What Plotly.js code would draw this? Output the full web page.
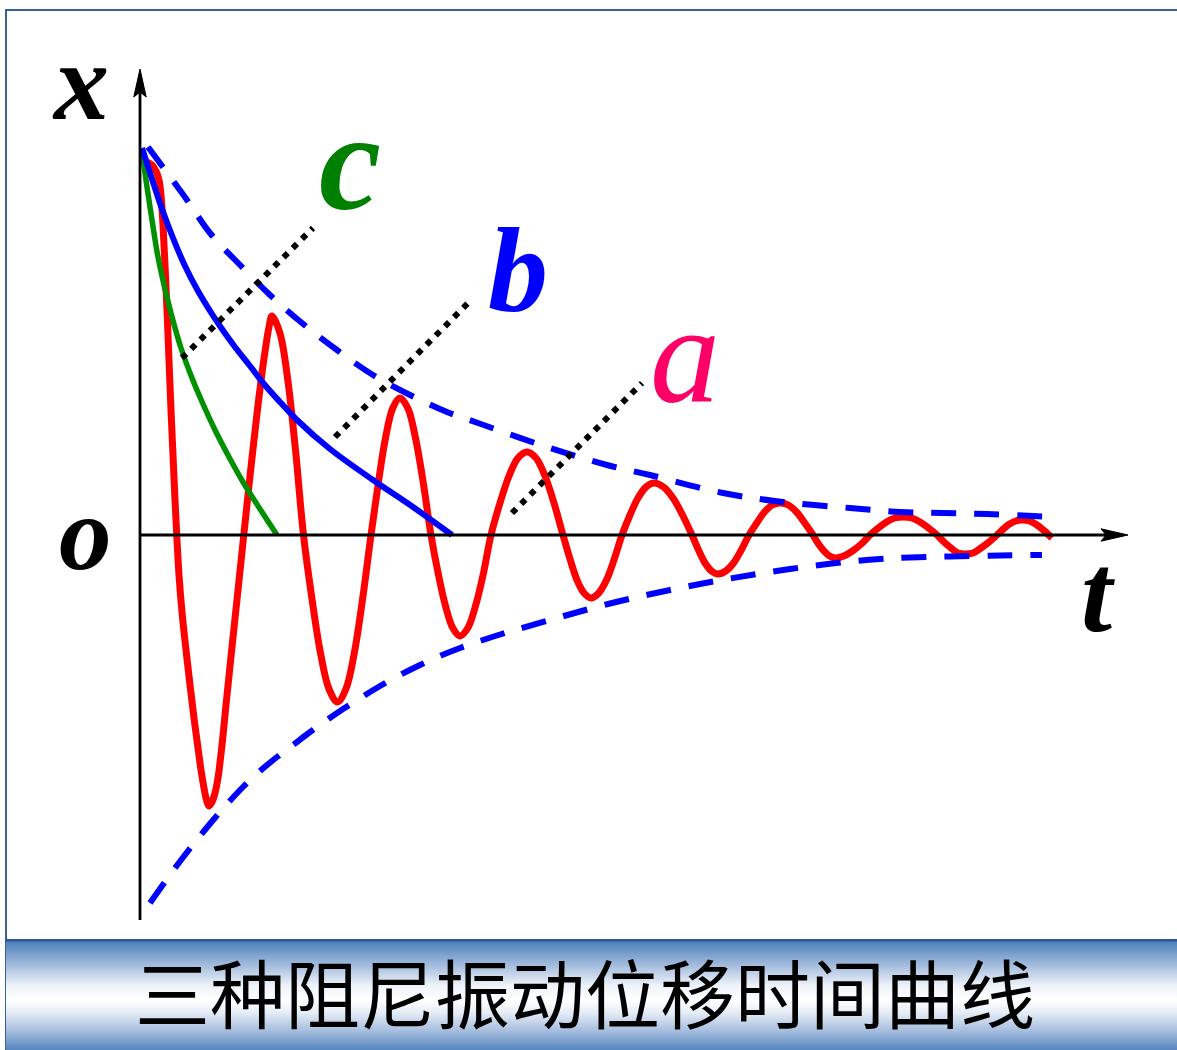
<!DOCTYPE html>
<html>
<head>
<meta charset="utf-8">
<script src="https://cdn.plot.ly/plotly-3.0.1.min.js"></script>
<style>
  html, body { margin: 0; padding: 0; background: #ffffff; }
  #wrap { position: relative; width: 1177px; height: 1050px; overflow: hidden; background: #ffffff; }
  #frame { position: absolute; left: 5px; top: 9px; width: 1200px; height: 1100px;
           border-left: 2px solid #3a5f96; border-top: 2px solid #3a5f96; box-sizing: border-box; }
  #bar { position: absolute; left: 6px; right: 0; top: 939px; height: 111px;
         background: linear-gradient(to bottom, #2f5597 0px, #2f5597 2px, #4f81bd 3px, #a9c0df 25%, #eef3f9 42%, #ffffff 55%, #e6edf6 66%, #a9c0df 82%, #5685c0 100%); }
  #chart { position: absolute; left: 0; top: 0; width: 1177px; height: 1050px; }
</style>
</head>
<body>
<div id="wrap">
  <div id="frame"></div>
  <div id="bar"></div>
  <div id="chart"></div>
</div>
<script>
// ---- data (t in time units, x in displacement units) ----
// curve a : under-damped oscillation
const redT = [0.2, 0.7, 1.2, 1.6, 1.9, 2.1, 2.3, 2.5, 2.7, 2.9, 3.1, 3.3, 3.5, 3.7, 3.9, 4.2, 4.6, 5.0, 5.4, 5.8,
              6.1, 6.4, 6.6, 6.9, 7.2, 7.5, 7.8, 8.2, 8.6, 9.0, 9.4, 9.8, 10.2, 10.6, 11.0, 11.4, 11.8, 12.2, 12.6, 12.9, 13.2,
              13.99, 14.78, 15.56, 16.35,
              17.2, 18.05, 18.9, 19.75, 20.59, 21.43, 22.26, 23.1,
              23.83, 24.55, 25.28, 26.0, 26.78, 27.55, 28.33, 29.1,
              29.83, 30.55, 31.28, 32.0, 32.78, 33.55, 34.33, 35.1,
              36.0, 36.9, 37.8, 38.7, 39.6, 40.5, 41.4, 42.3,
              43.0, 43.7, 44.4, 45.1, 45.88, 46.65, 47.43, 48.2,
              49.0, 49.8, 50.6, 51.4, 52.35, 53.3, 54.25, 55.2,
              55.85, 56.5, 57.15, 57.8, 58.58, 59.35, 60.13, 60.9,
              61.68, 62.45, 63.23, 64.0, 64.83, 65.65, 66.48, 67.3,
              67.85, 68.4, 68.95, 69.5, 70.38, 71.25, 72.13, 73.0,
              73.83, 74.65, 75.48, 76.3, 77.15, 78.0, 78.85, 79.7,
              80.4, 81.1, 81.8, 82.5, 83.3, 84.1, 84.9, 85.7,
              86.33, 86.95, 87.58, 88.2, 88.95, 89.7, 90.45, 91.2];
const redX = [37.3, 37.3, 37.0, 36.4, 35.5, 34.0, 31.0, 27.0, 22.5, 17.5, 12.5, 8.0, 3.5, -0.5, -4.0, -7.7, -11.5, -15.0, -18.3, -21.3,
              -23.5, -25.3, -26.3, -27.1, -26.7, -25.8, -24.3, -21.0, -17.0, -13.1, -9.3, -5.5, -1.7, 2.1, 5.9, 9.5, 13.0, 16.2, 19.0, 20.8, 21.9,
              20.2, 15.5, 8.4, 0.0,
              -6.4, -11.8, -15.4, -16.7, -15.4, -11.8, -6.4, 0.0,
              5.2, 9.7, 12.7, 13.7, 12.7, 9.7, 5.2, 0.0,
              -3.9, -7.1, -9.3, -10.1, -9.3, -7.1, -3.9, 0.0,
              3.2, 5.9, 7.7, 8.3, 7.7, 5.9, 3.2, 0.0,
              -2.4, -4.5, -5.8, -6.3, -5.8, -4.5, -2.4, 0.0,
              2.0, 3.7, 4.8, 5.2, 4.8, 3.7, 2.0, 0.0,
              -1.5, -2.8, -3.6, -3.9, -3.6, -2.8, -1.5, 0.0,
              1.2, 2.3, 3.0, 3.2, 3.0, 2.3, 1.2, 0.0,
              -0.9, -1.6, -2.1, -2.3, -2.1, -1.6, -0.9, 0.0,
              0.7, 1.3, 1.7, 1.8, 1.7, 1.3, 0.7, 0.0,
              -0.7, -1.3, -1.8, -1.9, -1.8, -1.3, -0.7, 0.0,
              0.6, 1.1, 1.4, 1.5, 1.4, 1.0, 0.4, -0.3];
// curve b : critical damping
const blueT = [0.2, 1.2, 2.2, 3.3, 4.5, 5.8, 7.2, 8.2, 9.5, 11.0, 12.4, 14.0, 15.7, 19.0, 23.3, 27.3, 31.2];
const blueX = [38.7, 35.6, 32.6, 29.7, 26.9, 24.4, 22.1, 20.6, 18.8, 16.9, 15.1, 13.3, 11.5, 8.6, 5.5, 2.8, 0.0];
// curve c : over-damping
const greenT = [0.2, 0.6, 1.0, 1.4, 1.8, 2.5, 3.2, 4.1, 5.2, 6.3, 7.5, 8.9, 10.3, 12.0, 13.7];
const greenX = [38.5, 35.5, 32.8, 30.2, 27.8, 24.6, 21.8, 18.7, 15.7, 13.1, 10.5, 7.8, 5.3, 2.6, 0.0];
// amplitude envelopes
const envUpT = [0.8, 4.7, 7.0, 10.2, 13.0, 16.2, 19.7, 23.3, 27.0, 30.7, 33.8, 40.7, 46.7, 51.0, 58.3, 64.3, 71.0, 76.0, 80.3, 84.7, 89.3, 91.2];
const envUpX = [38.8, 33.5, 30.2, 26.8, 24.0, 21.2, 18.5, 16.0, 14.0, 12.3, 11.2, 8.8, 7.0, 6.0, 4.2, 3.3, 2.7, 2.3, 2.2, 2.1, 1.9, 1.8];
const envLoT = [1.0, 2.2, 3.5, 4.8, 6.0, 7.4, 8.8, 10.3, 12.0, 13.7, 15.3, 17.0, 18.7, 20.3, 22.2, 24.0, 26.0, 28.0, 30.0, 32.0, 34.0,
                36.0, 38.0, 41.0, 44.0, 47.0, 50.0, 53.0, 56.0, 59.0, 62.0, 65.0, 68.0, 71.0, 74.0, 77.0, 81.0, 86.0, 90.2];
const envLoX = [-36.8, -35.1, -33.3, -31.6, -30.1, -28.4, -26.8, -25.2, -23.6, -22.2, -21.0, -19.7, -18.5, -17.4, -16.2, -15.1, -14.0, -13.0, -12.1, -11.3, -10.6,
                -9.95, -9.35, -8.5, -7.65, -6.85, -6.15, -5.5, -4.9, -4.35, -3.85, -3.4, -3.0, -2.65, -2.4, -2.25, -2.15, -2.05, -2.0];
// leader lines (start on curve, end at label)
const leaderNames = ["c", "b", "a"];
const leaderT = [[4.2, 17.3], [19.5, 32.8], [37.2, 50.2]];
const leaderX = [[17.7, 30.7], [9.8, 23.2], [2.2, 15.2]];
// text
const labelText = ["c", "b", "a"];
const labelT = [21.0, 37.8, 54.5];
const labelX = [37.4, 26.5, 18.1];
const labelSize = [140, 120, 140];
const labelColor = ["#008000", "#0000ff", "#ff0066"];
const titleText = "三种阻尼振动位移时间曲线";

// ---- traces ----
const traces = [];
traces.push({x: redT, y: redX, mode: "lines", line: {color: "#ff0000", width: 7, shape: "spline", smoothing: 1}});
traces.push({x: greenT, y: greenX, mode: "lines", line: {color: "#009000", width: 5.5, shape: "spline", smoothing: 1}});
traces.push({x: blueT, y: blueX, mode: "lines", line: {color: "#0000ff", width: 6, shape: "spline", smoothing: 1}});
traces.push({x: envUpT, y: envUpX, mode: "lines", line: {color: "#0000ff", width: 6, dash: "25px,18px", shape: "spline"}});
traces.push({x: envLoT, y: envLoX, mode: "lines", line: {color: "#0000ff", width: 6, dash: "25px,18px", shape: "spline"}});
for (let i = 0; i < leaderT.length; i++) {
  traces.push({x: leaderT[i], y: leaderX[i], mode: "lines", line: {color: "#000000", width: 6, dash: "6px,7px"}});
}

// ---- axes drawn as arrows ----
const shapes = [
  {type: "line", xref: "x", yref: "y", x0: 0, y0: -38.5, x1: 0, y1: 44.2, line: {color: "#000", width: 2.8}},
  {type: "path", xref: "x", yref: "y", path: "M 0 46.6 L 0.62 43.8 L 0 44.3 L -0.62 43.8 Z", fillcolor: "#000", line: {color: "#000", width: 1}},
  {type: "line", xref: "x", yref: "y", x0: 0, y0: 0, x1: 96.6, y1: 0, line: {color: "#000", width: 2.8}},
  {type: "path", xref: "x", yref: "y", path: "M 98.8 0 L 96.1 0.62 L 96.6 0 L 96.1 -0.62 Z", fillcolor: "#000", line: {color: "#000", width: 1}}
];

const serif = "Liberation Serif, Times New Roman, serif";
const annotations = [
  {x: -6.0, y: 45.3, text: "x", showarrow: false, font: {family: serif, size: 110, color: "#000", style: "italic", weight: "bold"}},
  {x: -5.5, y: 0.2, text: "o", showarrow: false, font: {family: serif, size: 105, color: "#000", style: "italic", weight: "bold"}},
  {x: 95.8, y: -5.8, text: "t", showarrow: false, font: {family: serif, size: 112, color: "#000", style: "italic", weight: "bold"}}
];
for (let i = 0; i < labelText.length; i++) {
  annotations.push({x: labelT[i], y: labelX[i], text: labelText[i], showarrow: false,
    font: {family: serif, size: labelSize[i], color: labelColor[i], style: "italic", weight: i === 2 ? "normal" : "bold"}});
}

const layout = {
  width: 1177, height: 1050,
  margin: {l: 0, r: 0, t: 0, b: 0, pad: 0},
  paper_bgcolor: "rgba(0,0,0,0)", plot_bgcolor: "rgba(0,0,0,0)",
  showlegend: false,
  xaxis: {range: [-14, 103.7], visible: false, fixedrange: true},
  yaxis: {range: [-51.5, 53.5], visible: false, fixedrange: true},
  title: {text: titleText, x: 0.497, xanchor: "center", y: 0.051, yref: "container", yanchor: "middle",
          font: {family: "Noto Sans CJK SC", size: 75, color: "#000000"}},
  shapes: shapes,
  annotations: annotations,
  hovermode: false
};

Plotly.newPlot("chart", traces, layout, {displayModeBar: false, staticPlot: true});
</script>
</body>
</html>
